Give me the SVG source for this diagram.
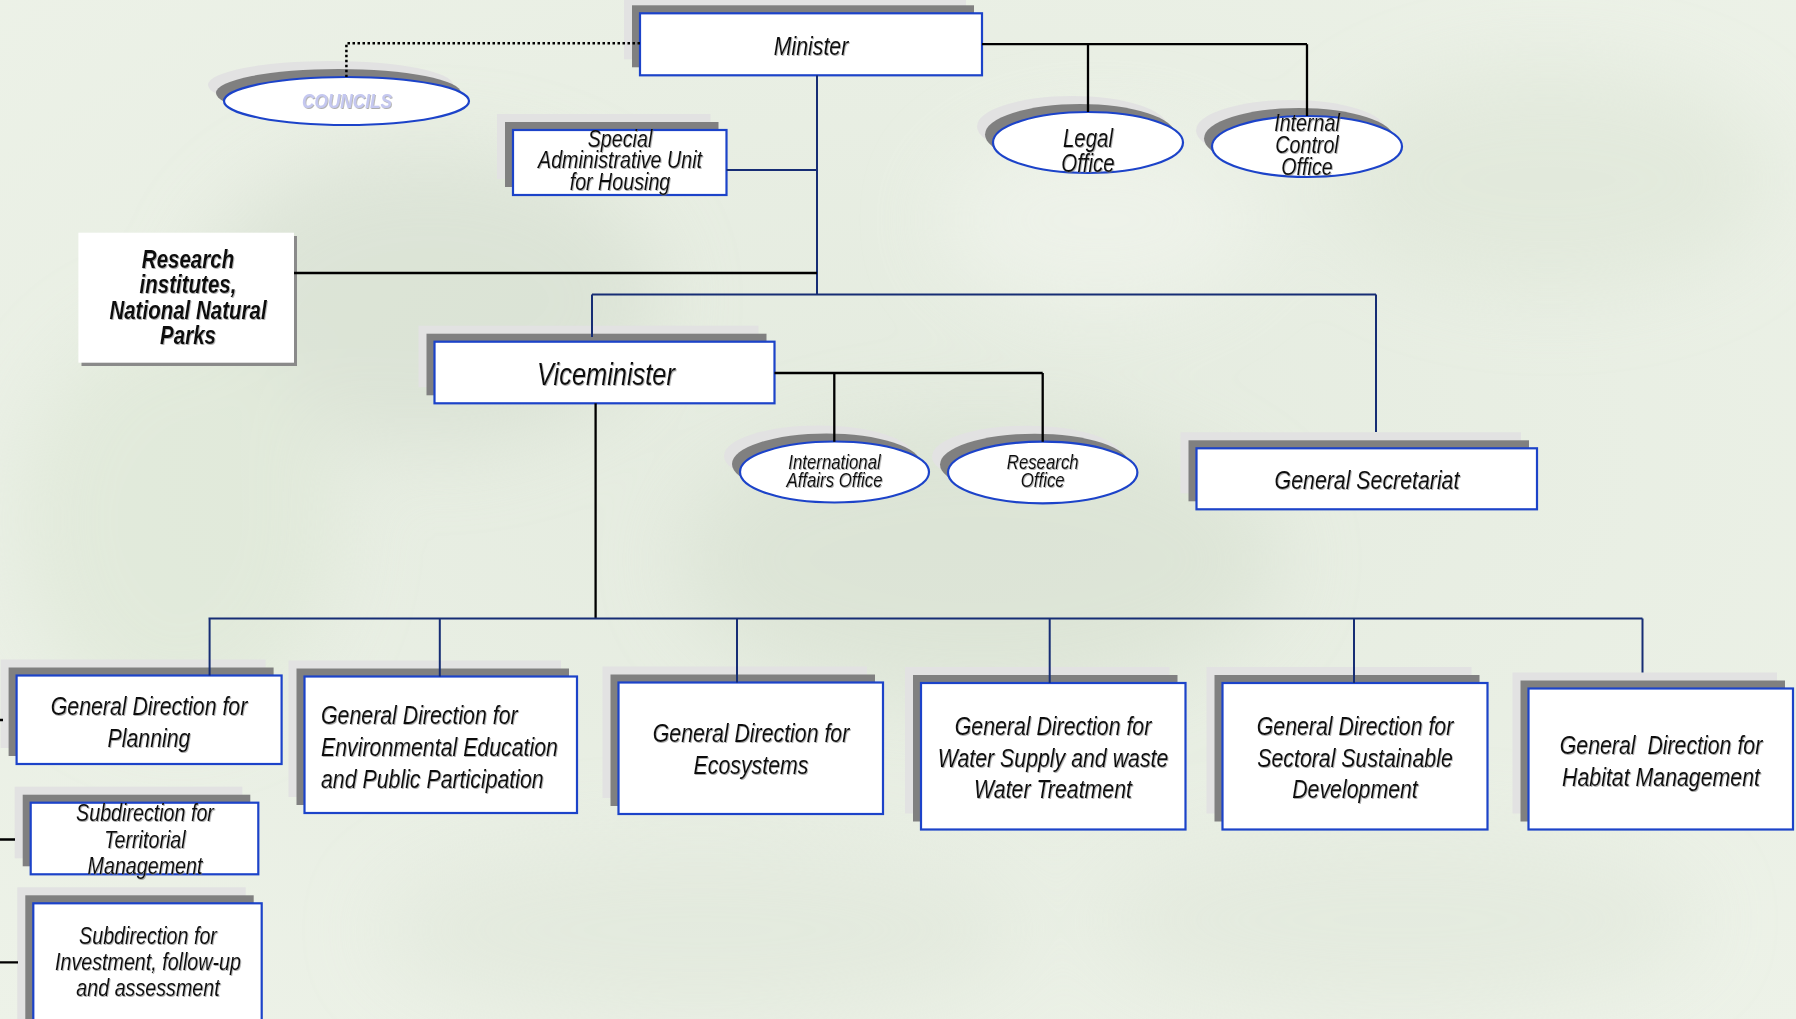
<svg xmlns="http://www.w3.org/2000/svg" width="1796" height="1019" viewBox="0 0 1796 1019">
<defs>
<style>
.lt{fill:#e2e2e2}
.dk{fill:#808080}
.box{fill:#ffffff;stroke:#1c43c9;stroke-width:2.2}
.t{font-family:"Liberation Sans",Arial,sans-serif;font-style:italic;fill:#111;filter:url(#ts)}
.c{text-anchor:middle}
.navy{stroke:#162d74;stroke-width:2;fill:none}
.blk{stroke:#000;stroke-width:2.3;fill:none}
.dot{stroke:#000;stroke-width:2.5;fill:none;stroke-dasharray:2.5 2.5}
</style>
<filter id="ts" x="-5%" y="-20%" width="110%" height="140%">
<feDropShadow dx="1" dy="1" stdDeviation="0.6" flood-color="#777" flood-opacity="0.6"/>
</filter>
<filter id="bl" x="-50%" y="-50%" width="200%" height="200%">
<feGaussianBlur stdDeviation="40"/>
</filter>
<radialGradient id="bg" cx="0.5" cy="0.45" r="0.75">
<stop offset="0" stop-color="#e4ebdf"/>
<stop offset="1" stop-color="#edf2e8"/>
</radialGradient>
</defs>

<g id="background">
<rect x="0" y="0" width="1796" height="1019" fill="url(#bg)"/>
<g filter="url(#bl)" opacity="0.55">
<ellipse cx="430" cy="300" rx="230" ry="150" fill="#d3dccd"/>
<ellipse cx="980" cy="560" rx="300" ry="140" fill="#d6dfcf"/>
<ellipse cx="1550" cy="180" rx="220" ry="110" fill="#dde5d6"/>
<ellipse cx="180" cy="520" rx="160" ry="200" fill="#dce6d4"/>
<ellipse cx="700" cy="930" rx="320" ry="90" fill="#dfe6d9"/>
<ellipse cx="1400" cy="920" rx="300" ry="90" fill="#e0e7da"/>
<ellipse cx="1100" cy="220" rx="160" ry="90" fill="#f3f6ef"/>
</g>
</g>

<g id="node-minister">
<rect class="lt" x="624" y="-2.7" width="342" height="62"/>
<rect class="dk" x="632" y="5.3" width="342" height="62"/>
<rect class="box" x="640" y="13.3" width="342" height="62"/>
<text class="t c" font-size="26" transform="translate(811 0) scale(0.82 1)"><tspan x="0" y="55">Minister</tspan></text>
</g>

<g id="node-councils">
<ellipse class="lt" cx="330.5" cy="85" rx="122.5" ry="24"/>
<ellipse class="dk" cx="338.5" cy="93" rx="122.5" ry="24"/>
<ellipse class="box" cx="346.5" cy="101" rx="122.5" ry="24"/>
<text class="t c" font-size="21" font-weight="bold" style="fill:#c5c8f0" transform="translate(347 0) scale(0.82 1)"><tspan x="0" y="108">COUNCILS</tspan></text>
</g>

<g id="node-special">
<rect class="lt" x="497" y="114" width="213.5" height="65"/>
<rect class="dk" x="505" y="122" width="213.5" height="65"/>
<rect class="box" x="513" y="130" width="213.5" height="65"/>
<text class="t c" font-size="24" transform="translate(620 0) scale(0.82 1)"><tspan x="0" y="147">Special</tspan><tspan x="0" y="168">Administrative Unit</tspan><tspan x="0" y="190">for Housing</tspan></text>
</g>

<g id="node-legal">
<ellipse class="lt" cx="1072" cy="126.5" rx="95" ry="30.5"/>
<ellipse class="dk" cx="1080" cy="134.5" rx="95" ry="30.5"/>
<ellipse class="box" cx="1088" cy="142.5" rx="95" ry="30.5"/>
<text class="t c" font-size="25" transform="translate(1088 0) scale(0.82 1)"><tspan x="0" y="147.5">Legal</tspan><tspan x="0" y="172.5">Office</tspan></text>
</g>

<g id="node-internal-control">
<ellipse class="lt" cx="1291" cy="130.5" rx="95" ry="30.5"/>
<ellipse class="dk" cx="1299" cy="138.5" rx="95" ry="30.5"/>
<ellipse class="box" cx="1307" cy="146.5" rx="95" ry="30.5"/>
<text class="t c" font-size="24" transform="translate(1307 0) scale(0.82 1)"><tspan x="0" y="131">Internal</tspan><tspan x="0" y="153">Control</tspan><tspan x="0" y="175">Office</tspan></text>
</g>

<g id="node-research-institutes">
<rect x="81.5" y="236" width="215.5" height="130" fill="#8a8a8a"/>
<rect x="78.4" y="232.7" width="215.6" height="130" fill="#ffffff"/>
<text class="t c" font-size="25" font-weight="bold" transform="translate(188 0) scale(0.82 1)"><tspan x="0" y="268">Research</tspan><tspan x="0" y="293.5">institutes,</tspan><tspan x="0" y="319">National Natural</tspan><tspan x="0" y="344.5">Parks</tspan></text>
</g>

<g id="node-viceminister">
<rect class="lt" x="418.5" y="325.7" width="340" height="61.6"/>
<rect class="dk" x="426.5" y="333.7" width="340" height="61.6"/>
<rect class="box" x="434.5" y="341.7" width="340" height="61.6"/>
<text class="t c" font-size="31" transform="translate(606 0) scale(0.82 1)"><tspan x="0" y="385">Viceminister</tspan></text>
</g>

<g id="node-international">
<ellipse class="lt" cx="818.5" cy="456" rx="94.5" ry="30.5"/>
<ellipse class="dk" cx="826.5" cy="464" rx="94.5" ry="30.5"/>
<ellipse class="box" cx="834.5" cy="472" rx="94.5" ry="30.5"/>
<text class="t c" font-size="20.5" transform="translate(834.5 0) scale(0.82 1)"><tspan x="0" y="469">International</tspan><tspan x="0" y="487">Affairs Office</tspan></text>
</g>

<g id="node-research-office">
<ellipse class="lt" cx="1026.7" cy="456.5" rx="94.7" ry="30.8"/>
<ellipse class="dk" cx="1034.7" cy="464.5" rx="94.7" ry="30.8"/>
<ellipse class="box" cx="1042.7" cy="472.5" rx="94.7" ry="30.8"/>
<text class="t c" font-size="20.5" transform="translate(1042.7 0) scale(0.82 1)"><tspan x="0" y="469">Research</tspan><tspan x="0" y="487">Office</tspan></text>
</g>

<g id="node-general-secretariat">
<rect class="lt" x="1180.5" y="432.3" width="340.5" height="61"/>
<rect class="dk" x="1188.5" y="440.3" width="340.5" height="61"/>
<rect class="box" x="1196.5" y="448.3" width="340.5" height="61"/>
<text class="t c" font-size="26" transform="translate(1367 0) scale(0.82 1)"><tspan x="0" y="489">General Secretariat</tspan></text>
</g>

<g id="node-planning">
<rect class="lt" x="0.6" y="659.5" width="265" height="88.5"/>
<rect class="dk" x="8.6" y="667.5" width="265" height="88.5"/>
<rect class="box" x="16.6" y="675.5" width="265" height="88.5"/>
<text class="t c" font-size="26" transform="translate(149 0) scale(0.82 1)"><tspan x="0" y="715">General Direction for</tspan><tspan x="0" y="747">Planning</tspan></text>
</g>

<g id="node-environmental">
<rect class="lt" x="288.5" y="660.5" width="272.5" height="136.5"/>
<rect class="dk" x="296.5" y="668.5" width="272.5" height="136.5"/>
<rect class="box" x="304.5" y="676.5" width="272.5" height="136.5"/>
<text class="t" font-size="26" transform="translate(321 0) scale(0.82 1)"><tspan x="0" y="724">General Direction for</tspan><tspan x="0" y="756">Environmental Education</tspan><tspan x="0" y="788">and Public Participation</tspan></text>
</g>

<g id="node-ecosystems">
<rect class="lt" x="602.5" y="666.5" width="264.5" height="131.5"/>
<rect class="dk" x="610.5" y="674.5" width="264.5" height="131.5"/>
<rect class="box" x="618.5" y="682.5" width="264.5" height="131.5"/>
<text class="t c" font-size="26" transform="translate(751 0) scale(0.82 1)"><tspan x="0" y="742">General Direction for</tspan><tspan x="0" y="774">Ecosystems</tspan></text>
</g>

<g id="node-water">
<rect class="lt" x="905" y="667" width="264.5" height="146.5"/>
<rect class="dk" x="913" y="675" width="264.5" height="146.5"/>
<rect class="box" x="921" y="683" width="264.5" height="146.5"/>
<text class="t c" font-size="26" transform="translate(1053 0) scale(0.82 1)"><tspan x="0" y="735">General Direction for</tspan><tspan x="0" y="767">Water Supply and waste</tspan><tspan x="0" y="798">Water Treatment</tspan></text>
</g>

<g id="node-sectoral">
<rect class="lt" x="1206.5" y="667" width="265" height="146.5"/>
<rect class="dk" x="1214.5" y="675" width="265" height="146.5"/>
<rect class="box" x="1222.5" y="683" width="265" height="146.5"/>
<text class="t c" font-size="26" transform="translate(1355 0) scale(0.82 1)"><tspan x="0" y="735">General Direction for</tspan><tspan x="0" y="767">Sectoral Sustainable</tspan><tspan x="0" y="798">Development</tspan></text>
</g>

<g id="node-habitat">
<rect class="lt" x="1512.5" y="672.5" width="264.5" height="141"/>
<rect class="dk" x="1520.5" y="680.5" width="264.5" height="141"/>
<rect class="box" x="1528.5" y="688.5" width="264.5" height="141"/>
<text class="t c" font-size="26" transform="translate(1661 0) scale(0.82 1)"><tspan x="0" y="754" xml:space="preserve">General  Direction for</tspan><tspan x="0" y="786">Habitat Management</tspan></text>
</g>

<g id="node-territorial">
<rect class="lt" x="14.7" y="786.7" width="227.6" height="71.6"/>
<rect class="dk" x="22.7" y="794.7" width="227.6" height="71.6"/>
<rect class="box" x="30.7" y="802.7" width="227.6" height="71.6"/>
<text class="t c" font-size="24" transform="translate(145 0) scale(0.82 1)"><tspan x="0" y="821.5">Subdirection for</tspan><tspan x="0" y="848">Territorial</tspan><tspan x="0" y="874.5">Management</tspan></text>
</g>

<g id="node-investment">
<rect class="lt" x="17.3" y="887.3" width="228.4" height="140"/>
<rect class="dk" x="25.3" y="895.3" width="228.4" height="140"/>
<rect class="box" x="33.3" y="903.3" width="228.4" height="140"/>
<text class="t c" font-size="24" transform="translate(148 0) scale(0.82 1)"><tspan x="0" y="944">Subdirection for</tspan><tspan x="0" y="970.5">Investment, follow-up</tspan><tspan x="0" y="996">and assessment</tspan></text>
</g>

<g id="connectors">
<path class="dot" d="M640 43.3 H346.4 V77"/>
<path class="blk" d="M982 44.2 H1307 M1088 44.2 V112 M1307 44.2 V116"/>
<path class="navy" d="M817 75.3 V294.4 M726.5 170 H817 M592 294.4 H1376 M592 294.4 V337 M1376 294.4 V432"/>
<path class="blk" d="M294 273 H817"/>
<path class="blk" d="M774.5 373 H1042.7 M834.3 373 V441.7 M1042.7 373 V441.7"/>
<path class="blk" d="M595.6 403.3 V618.5"/>
<path class="navy" d="M208.5 618.5 H1642.5 M209.6 618.5 V675.5 M439.8 618.5 V676.5 M737 618.5 V682.5 M1049.7 618.5 V683 M1354 618.5 V683 M1642.5 618.5 V672.5"/>
<path class="blk" d="M0 720 H3 M0 839.5 H15 M0 962.3 H18"/>
</g>
</svg>
